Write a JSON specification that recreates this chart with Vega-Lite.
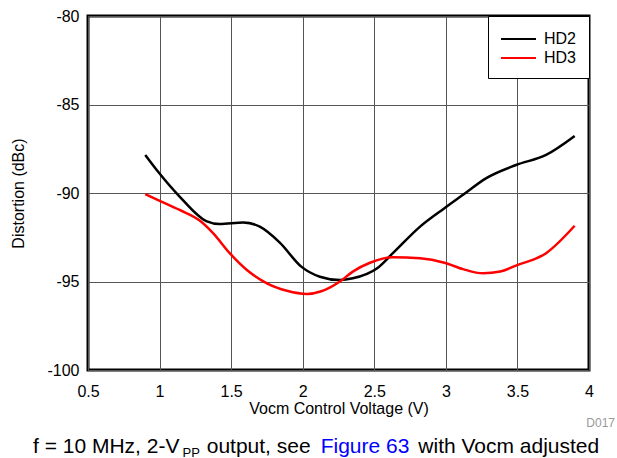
{
  "$schema": "https://vega.github.io/schema/vega-lite/v6.json",
  "width": 501,
  "height": 354,
  "autosize": {"type": "none"},
  "padding": {"left": 88, "top": 16, "right": 28, "bottom": 88},
  "config": {
    "font": "Liberation Sans",
    "view": {"stroke": "#000", "strokeWidth": 3},
    "axis": {"domain": false, "ticks": false, "gridColor": "#555", "gridWidth": 1, "gridOpacity": 1, "labelColor": "#000", "titleColor": "#000", "labelFontSize": 16, "titleFontSize": 16, "titleFontWeight": "normal"}
  },
  "datasets": {
    "curves": [
      {"v": 0.9, "d": -87.85, "s": "HD2"},
      {"v": 0.99, "d": -88.8, "s": "HD2"},
      {"v": 1.14, "d": -90.2, "s": "HD2"},
      {"v": 1.33, "d": -91.6, "s": "HD2"},
      {"v": 1.42, "d": -91.75, "s": "HD2"},
      {"v": 1.585, "d": -91.66, "s": "HD2"},
      {"v": 1.7, "d": -91.9, "s": "HD2"},
      {"v": 1.84, "d": -92.8, "s": "HD2"},
      {"v": 1.99, "d": -94.16, "s": "HD2"},
      {"v": 2.12, "d": -94.73, "s": "HD2"},
      {"v": 2.26, "d": -94.92, "s": "HD2"},
      {"v": 2.35, "d": -94.82, "s": "HD2"},
      {"v": 2.52, "d": -94.25, "s": "HD2"},
      {"v": 2.63, "d": -93.4, "s": "HD2"},
      {"v": 2.82, "d": -91.9, "s": "HD2"},
      {"v": 2.99, "d": -90.86, "s": "HD2"},
      {"v": 3.12, "d": -90.1, "s": "HD2"},
      {"v": 3.28, "d": -89.17, "s": "HD2"},
      {"v": 3.49, "d": -88.42, "s": "HD2"},
      {"v": 3.7, "d": -87.85, "s": "HD2"},
      {"v": 3.9, "d": -86.78, "s": "HD2"},
      {"v": 0.9, "d": -90.06, "s": "HD3"},
      {"v": 0.99, "d": -90.4, "s": "HD3"},
      {"v": 1.14, "d": -90.96, "s": "HD3"},
      {"v": 1.28, "d": -91.56, "s": "HD3"},
      {"v": 1.375, "d": -92.28, "s": "HD3"},
      {"v": 1.49, "d": -93.4, "s": "HD3"},
      {"v": 1.61, "d": -94.35, "s": "HD3"},
      {"v": 1.75, "d": -95.1, "s": "HD3"},
      {"v": 1.89, "d": -95.52, "s": "HD3"},
      {"v": 2.03, "d": -95.7, "s": "HD3"},
      {"v": 2.13, "d": -95.55, "s": "HD3"},
      {"v": 2.26, "d": -95.0, "s": "HD3"},
      {"v": 2.35, "d": -94.44, "s": "HD3"},
      {"v": 2.47, "d": -93.94, "s": "HD3"},
      {"v": 2.63, "d": -93.63, "s": "HD3"},
      {"v": 2.82, "d": -93.69, "s": "HD3"},
      {"v": 2.99, "d": -93.94, "s": "HD3"},
      {"v": 3.12, "d": -94.3, "s": "HD3"},
      {"v": 3.26, "d": -94.54, "s": "HD3"},
      {"v": 3.38, "d": -94.44, "s": "HD3"},
      {"v": 3.49, "d": -94.1, "s": "HD3"},
      {"v": 3.7, "d": -93.4, "s": "HD3"},
      {"v": 3.9, "d": -91.85, "s": "HD3"}
    ]
  },
  "layer": [
    {
      "data": {"name": "curves"},
      "mark": {"type": "line", "interpolate": "monotone", "strokeWidth": 2.5},
      "encoding": {
        "x": {"field": "v", "type": "quantitative", "scale": {"domain": [0.5, 4]},
          "axis": {"title": "Vocm Control Voltage (V)", "values": [0.5, 1, 1.5, 2, 2.5, 3, 3.5, 4], "format": "~g", "labelPadding": 13, "titlePadding": 1, "labelFlush": false}},
        "y": {"field": "d", "type": "quantitative", "scale": {"domain": [-100, -80]},
          "axis": {"title": "Distortion (dBc)", "values": [-100, -95, -90, -85, -80], "labelExpr": "'' + datum.value", "labelPadding": 9, "titlePadding": 20}},
        "color": {"field": "s", "type": "nominal", "scale": {"domain": ["HD2", "HD3"], "range": ["#000000", "#ff0000"]},
          "legend": {"title": null, "orient": "top-right", "offset": 0, "fillColor": "#fff", "strokeColor": "#000", "padding": 12, "symbolType": "M-1,0H2.5", "symbolSize": 400, "symbolStrokeWidth": 2, "labelFontSize": 16, "labelOffset": 22, "rowPadding": 0, "labelColor": "#000"}}
      }
    },
    {"data": {"values": [{}]}, "mark": {"type": "text", "text": "f = 10 MHz, 2-V", "x": -55, "y": 437, "align": "left", "baseline": "alphabetic", "fontSize": 21, "color": "#000"}, "encoding": {}},
    {"data": {"values": [{}]}, "mark": {"type": "text", "text": "PP", "x": 94.5, "y": 441, "align": "left", "baseline": "alphabetic", "fontSize": 13, "color": "#000"}, "encoding": {}},
    {"data": {"values": [{}]}, "mark": {"type": "text", "text": "output, see", "x": 118.7, "y": 437, "align": "left", "baseline": "alphabetic", "fontSize": 21, "color": "#000"}, "encoding": {}},
    {"data": {"values": [{}]}, "mark": {"type": "text", "text": "Figure 63", "x": 232.7, "y": 437, "align": "left", "baseline": "alphabetic", "fontSize": 21, "color": "#0000ff"}, "encoding": {}},
    {"data": {"values": [{}]}, "mark": {"type": "text", "text": "with Vocm adjusted", "x": 330.3, "y": 437, "align": "left", "baseline": "alphabetic", "fontSize": 21, "color": "#000"}, "encoding": {}},
    {"data": {"values": [{}]}, "mark": {"type": "text", "text": "D017", "x": 527, "y": 407, "align": "right", "baseline": "middle", "fontSize": 12, "color": "#999"}, "encoding": {}}
  ]
}
